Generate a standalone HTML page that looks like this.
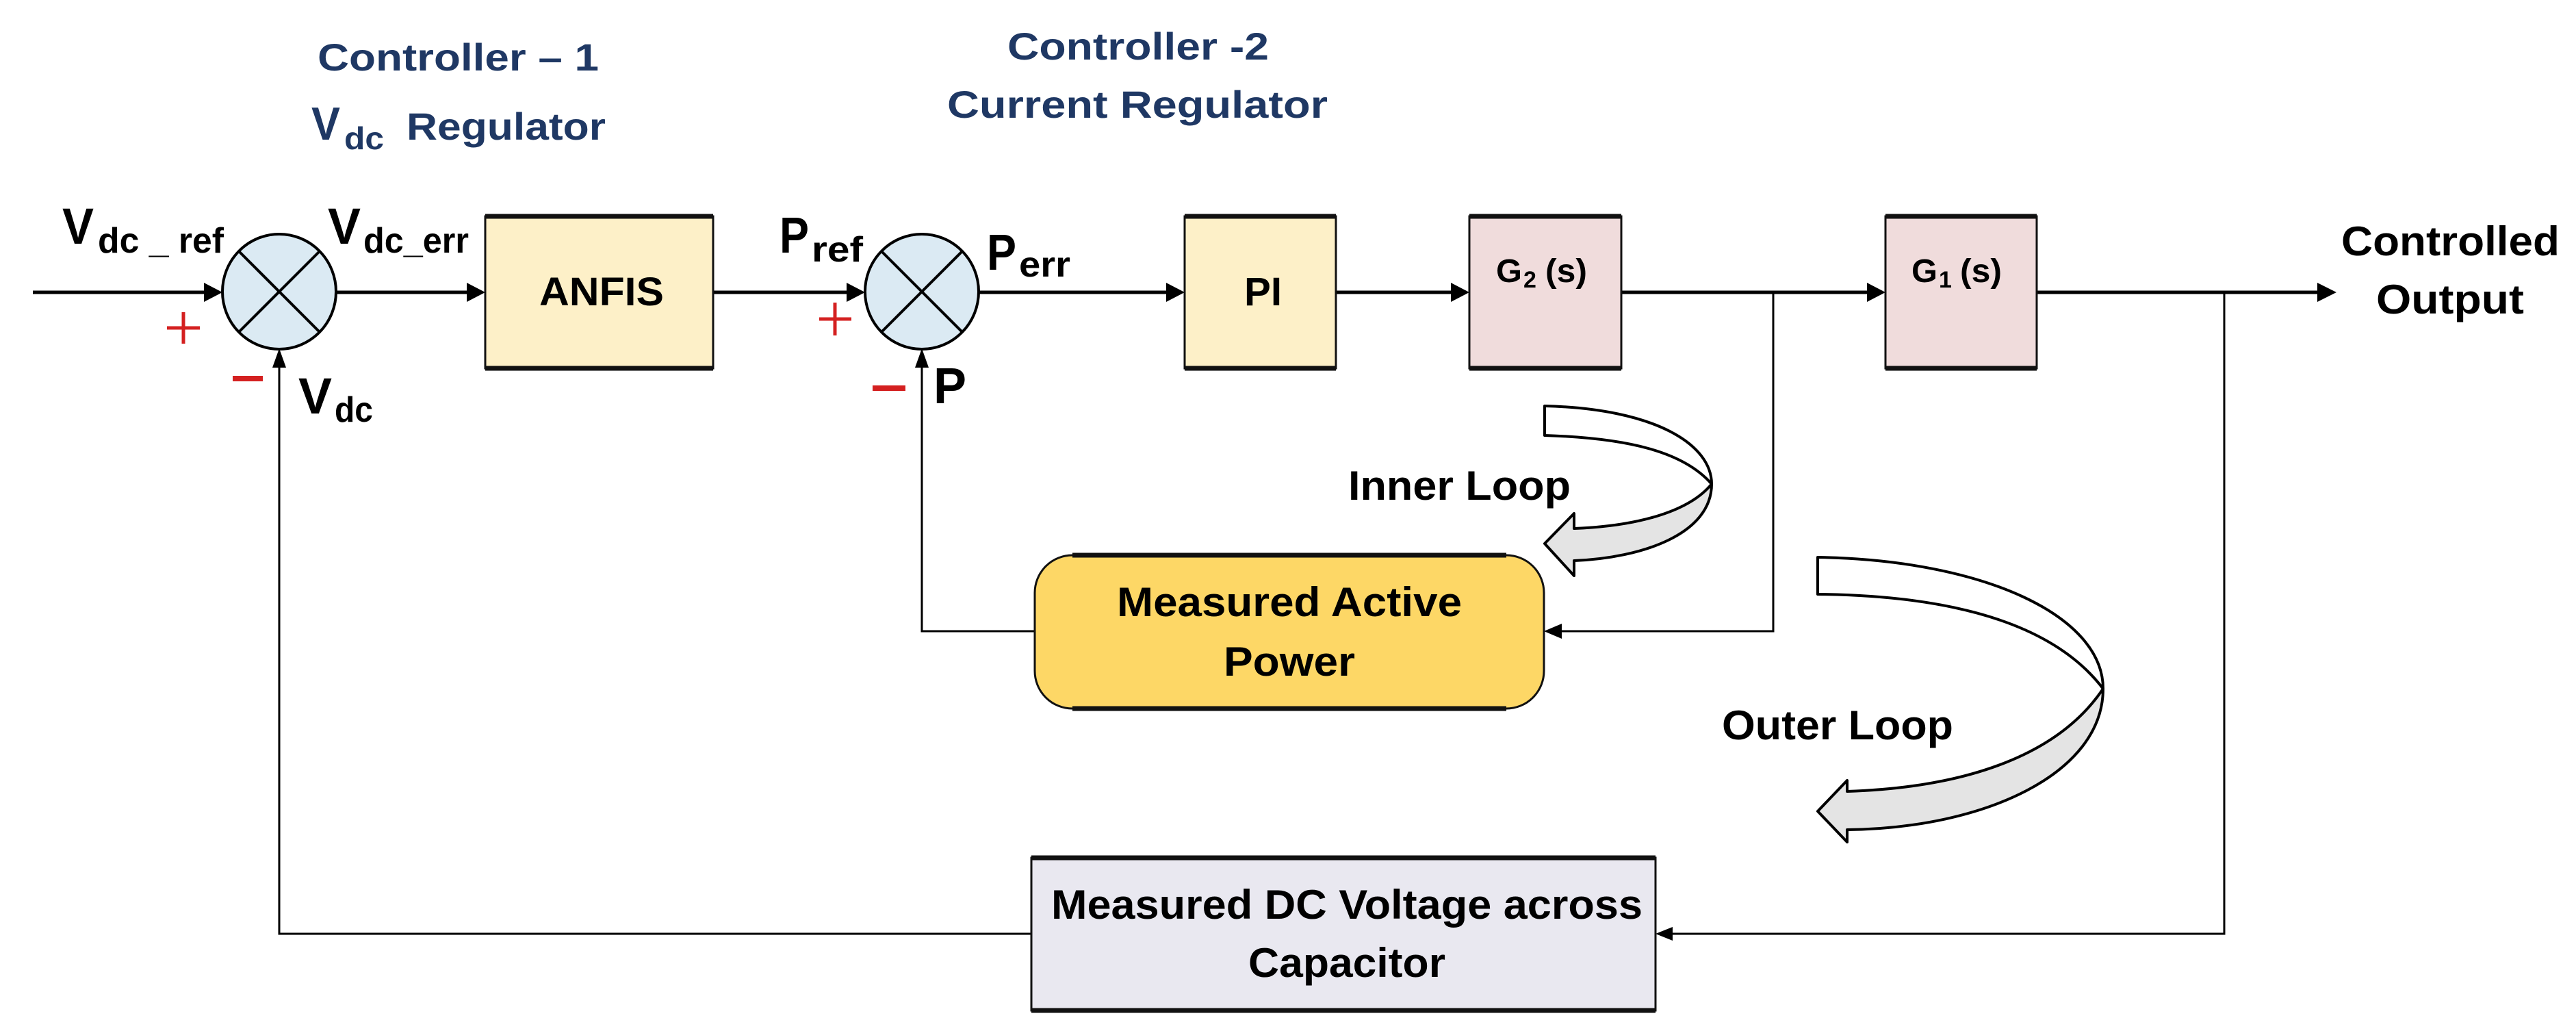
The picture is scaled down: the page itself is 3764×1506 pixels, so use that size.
<!DOCTYPE html>
<html><head><meta charset="utf-8"><style>
html,body{margin:0;padding:0;background:#fff;}
svg{display:block;}
text{font-family:"Liberation Sans",sans-serif;font-weight:bold;fill:#000;}
.b{fill:#1f3864;}
</style></head><body>
<svg width="3764" height="1506" viewBox="0 0 3764 1506" xmlns="http://www.w3.org/2000/svg">
<!-- titles -->
<text class="b" x="464" y="103" font-size="56" textLength="411" lengthAdjust="spacingAndGlyphs">Controller – 1</text>
<text class="b" x="455" y="204" font-size="68" textLength="42" lengthAdjust="spacingAndGlyphs">V</text>
<text class="b" x="503" y="218" font-size="46" textLength="58" lengthAdjust="spacingAndGlyphs">dc</text>
<text class="b" x="594" y="204" font-size="56" textLength="291" lengthAdjust="spacingAndGlyphs">Regulator</text>
<text class="b" x="1472" y="87" font-size="56" textLength="382" lengthAdjust="spacingAndGlyphs">Controller -2</text>
<text class="b" x="1384" y="172" font-size="56" textLength="556" lengthAdjust="spacingAndGlyphs">Current  Regulator</text>

<!-- main line -->
<g stroke="#000" stroke-width="5" fill="none">
<line x1="48" y1="427" x2="300" y2="427"/>
<line x1="491" y1="427" x2="685" y2="427"/>
<line x1="1042" y1="427" x2="1240" y2="427"/>
<line x1="1430" y1="427" x2="1707" y2="427"/>
<line x1="1952" y1="427" x2="2123" y2="427"/>
<line x1="2369" y1="427" x2="2731" y2="427"/>
<line x1="2976" y1="427" x2="3388" y2="427"/>
</g>
<g fill="#000">
<polygon points="325,427 298,413 298,441"/>
<polygon points="709,427 682,413 682,441"/>
<polygon points="1264,427 1237,413 1237,441"/>
<polygon points="1731,427 1704,413 1704,441"/>
<polygon points="2147,427 2120,413 2120,441"/>
<polygon points="2755,427 2728,413 2728,441"/>
<polygon points="3414,427 3386,413 3386,441"/>
</g>
<!-- feedback lines -->
<g stroke="#000" stroke-width="3" fill="none">
<polyline points="3250,427 3250,1364 2440,1364"/>
<polyline points="1507,1364 408,1364 408,535"/>
<polyline points="2591,427 2591,922 2280,922"/>
<polyline points="1512,922 1347,922 1347,535"/>
</g>
<g fill="#000">
<polygon points="2419,1364 2444,1354 2444,1374"/>
<polygon points="2256,922 2282,911 2282,933"/>
<polygon points="408,509 398,537 418,537"/>
<polygon points="1347,509 1337,537 1357,537"/>
</g>

<!-- summing junctions -->
<g stroke="#000" stroke-width="4">
<ellipse cx="408" cy="426" rx="83" ry="84" fill="#dbeaf3"/>
<line x1="349" y1="367" x2="467" y2="485"/><line x1="467" y1="367" x2="349" y2="485"/>
<ellipse cx="1347" cy="426" rx="83" ry="84" fill="#dbeaf3"/>
<line x1="1288" y1="367" x2="1406" y2="485"/><line x1="1406" y1="367" x2="1288" y2="485"/>
</g>

<!-- boxes -->
<g stroke="#111" stroke-width="3">
<rect x="709" y="316" width="333" height="222" fill="#fdf0c8"/>
<rect x="1731" y="316" width="221" height="222" fill="#fdf0c8"/>
<rect x="2147" y="316" width="222" height="222" fill="#f0dcdc"/>
<rect x="2755" y="316" width="221" height="222" fill="#f0dcdc"/>
<rect x="1507" y="1253" width="912" height="223" fill="#e9e8f0"/>
<rect x="1512" y="811" width="744" height="224" rx="55" ry="55" fill="#fdd766"/>
</g>
<g stroke="#111" stroke-width="7">
<line x1="709" y1="316" x2="1042" y2="316"/><line x1="709" y1="538" x2="1042" y2="538"/>
<line x1="1731" y1="316" x2="1952" y2="316"/><line x1="1731" y1="538" x2="1952" y2="538"/>
<line x1="2147" y1="316" x2="2369" y2="316"/><line x1="2147" y1="538" x2="2369" y2="538"/>
<line x1="2755" y1="316" x2="2976" y2="316"/><line x1="2755" y1="538" x2="2976" y2="538"/>
<line x1="1507" y1="1253" x2="2419" y2="1253"/><line x1="1507" y1="1476" x2="2419" y2="1476"/>
<line x1="1567" y1="811" x2="2201" y2="811"/><line x1="1567" y1="1035" x2="2201" y2="1035"/>
</g>

<!-- box texts -->
<text x="788" y="446" font-size="58" textLength="182" lengthAdjust="spacingAndGlyphs">ANFIS</text>
<text x="1818" y="446" font-size="58" textLength="55" lengthAdjust="spacingAndGlyphs">PI</text>
<text x="2186" y="412" font-size="48" textLength="38" lengthAdjust="spacingAndGlyphs">G</text>
<text x="2226" y="420" font-size="34">2</text>
<text x="2258" y="412" font-size="48" textLength="61" lengthAdjust="spacingAndGlyphs">(s)</text>
<text x="2793" y="412" font-size="48" textLength="38" lengthAdjust="spacingAndGlyphs">G</text>
<text x="2833" y="420" font-size="34">1</text>
<text x="2864" y="412" font-size="48" textLength="61" lengthAdjust="spacingAndGlyphs">(s)</text>
<text x="1632" y="900" font-size="60" textLength="504" lengthAdjust="spacingAndGlyphs">Measured Active</text>
<text x="1788" y="987" font-size="60" textLength="192" lengthAdjust="spacingAndGlyphs">Power</text>
<text x="1536" y="1342" font-size="60" textLength="864" lengthAdjust="spacingAndGlyphs">Measured DC Voltage across</text>
<text x="1824" y="1427" font-size="60" textLength="288" lengthAdjust="spacingAndGlyphs">Capacitor</text>

<!-- signal labels -->
<text x="91" y="356" font-size="74" textLength="46" lengthAdjust="spacingAndGlyphs">V</text>
<text x="143" y="369" font-size="52" textLength="184" lengthAdjust="spacingAndGlyphs">dc _ ref</text>
<text x="479" y="356" font-size="74" textLength="48" lengthAdjust="spacingAndGlyphs">V</text>
<text x="531" y="369" font-size="52" textLength="154" lengthAdjust="spacingAndGlyphs">dc_err</text>
<text x="1139" y="369" font-size="74" textLength="43" lengthAdjust="spacingAndGlyphs">P</text>
<text x="1186" y="382" font-size="52" textLength="75" lengthAdjust="spacingAndGlyphs">ref</text>
<text x="1442" y="394" font-size="74" textLength="43" lengthAdjust="spacingAndGlyphs">P</text>
<text x="1489" y="404" font-size="52" textLength="75" lengthAdjust="spacingAndGlyphs">err</text>
<text x="436" y="604" font-size="74" textLength="49" lengthAdjust="spacingAndGlyphs">V</text>
<text x="489" y="616" font-size="52" textLength="56" lengthAdjust="spacingAndGlyphs">dc</text>
<text x="1364" y="589" font-size="74" textLength="48" lengthAdjust="spacingAndGlyphs">P</text>
<g stroke="#d42020" stroke-width="5">
<line x1="244" y1="479" x2="292" y2="479"/><line x1="268" y1="456" x2="268" y2="502"/>
<line x1="1197" y1="466" x2="1244" y2="466"/><line x1="1220" y1="442" x2="1220" y2="490"/>
</g>
<rect x="340" y="549" width="44" height="8" fill="#d42020"/>
<rect x="1275" y="563" width="48" height="8" fill="#d42020"/>

<text x="3421" y="373" font-size="60" textLength="319" lengthAdjust="spacingAndGlyphs">Controlled</text>
<text x="3472" y="458" font-size="60" textLength="216" lengthAdjust="spacingAndGlyphs">Output</text>
<text x="1970" y="730" font-size="60" textLength="325" lengthAdjust="spacingAndGlyphs">Inner Loop</text>
<text x="2516" y="1080" font-size="60" textLength="338" lengthAdjust="spacingAndGlyphs">Outer Loop</text>

<!-- curved arrows -->
<g stroke="#000" stroke-width="4" stroke-linejoin="round">
<path d="M2257,593 C2420,597 2501,650 2501,707 C2460,660 2380,640 2257,636 Z" fill="#fff"/>
<path d="M2501,707 C2501,780 2400,815 2300,819 L2300,841 L2257,794 L2300,750 L2300,772 C2400,768 2470,745 2501,707 Z" fill="#e4e4e4"/>
<path d="M2656,814 C2900,818 3073,900 3073,1006 C3000,910 2850,870 2656,868 Z" fill="#fff"/>
<path d="M3073,1006 C3073,1130 2900,1210 2699,1212 L2699,1230 L2656,1185 L2699,1140 L2699,1156 C2880,1150 3010,1100 3073,1006 Z" fill="#e4e4e4"/>
</g>
</svg>
</body></html>
